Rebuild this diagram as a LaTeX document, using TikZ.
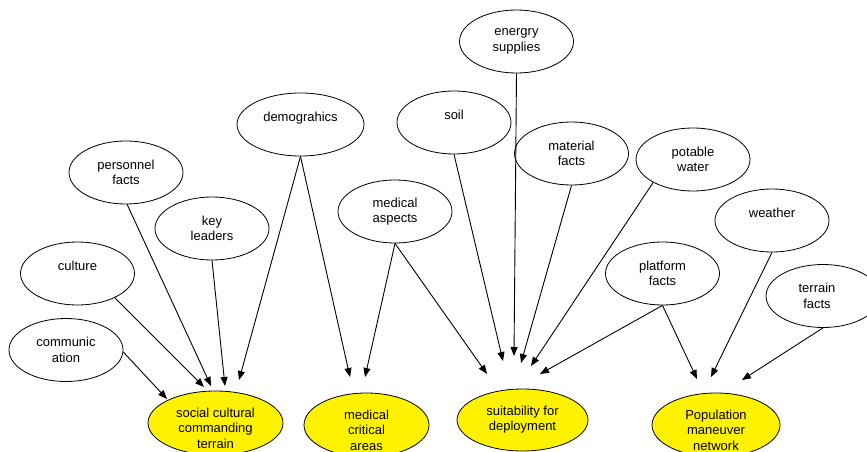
\documentclass[tikz,border=0pt]{standalone}
\usepackage{fontspec}
\setmainfont{Liberation Sans}
\usetikzlibrary{shapes.geometric,arrows.meta}
\tikzset{
  ell/.style={ellipse,draw=black,line width=0.8pt,fill=white,inner sep=0pt,minimum width=114pt,minimum height=63pt},
  goal/.style={ell,fill=yellow},
  txt/.style={align=center,inner sep=0pt,font=\fontsize{13}{15.5}\selectfont},
  arr/.style={line width=0.9pt,-{Triangle[length=9pt,width=7pt]}}
}
\begin{document}
\begin{tikzpicture}[x=1pt,y=-1pt]
\useasboundingbox (0,0) rectangle (867,452);
\begin{scope}
\clip (0,0) rectangle (867,452);
% source ellipses
\node[ell] (comm) at (66,350) {};
\node[txt] (commT) at (comm) {communic\\ation};
\node[ell] (cult) at (77.5,273.5) {};
\node[txt] (cultT) at (cult) {culture\\\mbox{}};
\node[ell] (pers) at (126,172.5) {};
\node[txt] (persT) at (pers) {personnel\\facts};
\node[ell] (key) at (212,228.5) {};
\node[txt] (keyT) at (key) {key\\leaders};
\node[ell,minimum width=127pt] (demo) at (300.5,124.5) {};
\node[txt] (demoT) at (demo) {demograhics\\\mbox{}};
\node[ell] (meda) at (395,211.5) {};
\node[txt] (medaT) at (meda) {medical\\aspects};
\node[ell] (soil) at (454,122.5) {};
\node[txt] (soilT) at (soil) {soil\\\mbox{}};
\node[ell] (ener) at (516.5,41.5) {};
\node[txt] (enerT) at (ener) {energry\\supplies};
\node[ell] (mate) at (571.5,153.5) {};
\node[txt] (mateT) at (mate) {material\\facts};
\node[ell] (pota) at (693,159.5) {};
\node[txt] (potaT) at (pota) {potable\\water};
\node[ell] (weat) at (772,220.5) {};
\node[txt] (weatT) at (weat) {weather\\\mbox{}};
\node[ell] (plat) at (662.5,273.5) {};
\node[txt] (platT) at (plat) {platform\\facts};
\node[ell] (terr) at (823,296) {};
\node[txt] (terrT) at (817,296) {terrain\\facts};
% goal ellipses
\node[goal,minimum width=135pt,minimum height=64pt] (soc) at (215.5,423) {};
\node[txt] (socT) at (215.5,428) {social cultural\\commanding\\terrain};
\node[goal,minimum width=125pt,minimum height=64pt] (mca) at (366.5,425) {};
\node[txt] (mcaT) at (366.5,430) {medical\\critical\\areas};
\node[goal,minimum width=131pt,minimum height=62pt] (suit) at (522.5,420) {};
\node[txt] (suitT) at (522.5,419.5) {suitability for\\deployment};
\node[goal,minimum width=128pt,minimum height=64pt] (popn) at (716,425) {};
\node[txt] (popnT) at (716,430) {Population\\maneuver\\network};
% arrow tips
\coordinate (s1) at (167,399);
\coordinate (s2) at (204,387);
\coordinate (s3) at (211,386);
\coordinate (s4) at (225,386);
\coordinate (s5) at (239,380);
\coordinate (m1) at (350,377);
\coordinate (m2) at (365,377);
\coordinate (u1) at (487,374);
\coordinate (u2) at (503,361);
\coordinate (u3) at (514,356);
\coordinate (u4) at (521,363);
\coordinate (u5) at (531,366);
\coordinate (u6) at (540,374);
\coordinate (p1) at (697,379);
\coordinate (p2) at (711,377);
\coordinate (p3) at (742,380);
% connectors
\draw[arr] (comm.-2) -- (s1);
\draw[arr] (cult.-33) -- (s2);
\draw[arr] (pers.-88) -- (s3);
\draw[arr] (key.south) -- (s4);
\draw[arr] (demo.south) -- (s5);
\draw[arr] (demo.south) -- (m1);
\draw[arr] (meda.south) -- (m2);
\draw[arr] (meda.south) -- (u1);
\draw[arr] (soil.south) -- (u2);
\draw[arr] (ener.south) -- (u3);
\draw[arr] (mate.south) -- (u4);
\draw[arr] (pota.-150) -- (u5);
\draw[arr] (plat.south) -- (u6);
\draw[arr] (plat.south) -- (p1);
\draw[arr] (weat.south) -- (p2);
\draw[arr] (terr.south) -- (p3);
\end{scope}
\end{tikzpicture}
\end{document}
